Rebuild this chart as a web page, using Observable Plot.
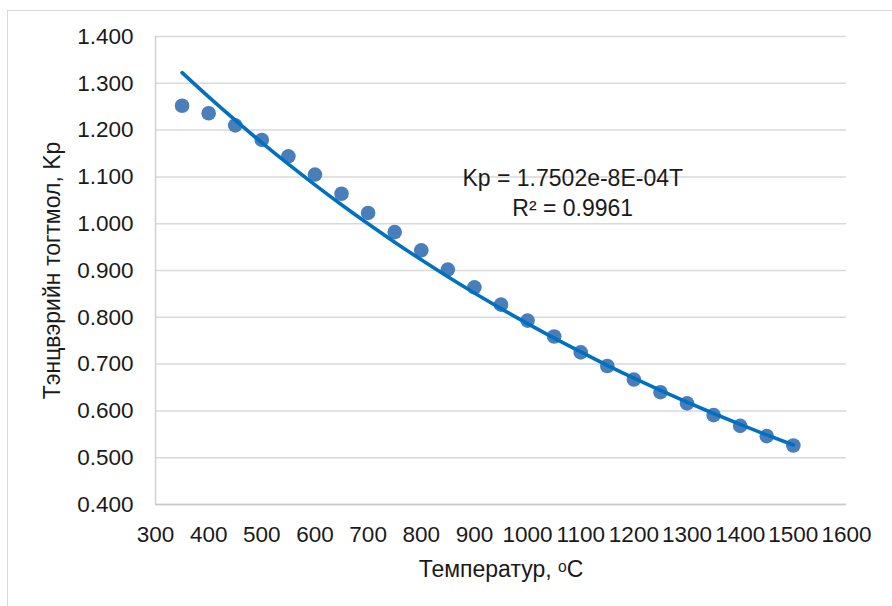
<!DOCTYPE html>
<html>
<head>
<meta charset="utf-8">
<script src="https://cdn.jsdelivr.net/npm/d3@7"></script>
<script src="https://cdn.jsdelivr.net/npm/@observablehq/plot@0.6"></script>
<style>
  html, body { margin: 0; padding: 0; background: #fff; }
  #wrap { position: relative; width: 892px; height: 606px; overflow: hidden; }
  #frame { position: absolute; left: 7px; top: 10px; width: 1000px; height: 1000px;
           border-top: 1.5px solid #d9d9d9; border-left: 1.5px solid #d9d9d9; pointer-events: none; }
  #chart svg { display: block; }
</style>
</head>
<body>
<div id="wrap">
  <div id="chart"></div>
  <div id="frame"></div>
</div>
<script>
// Temperature (°C) of each measured point
const temperatures = [350, 400, 450, 500, 550, 600, 650, 700, 750, 800, 850, 900,
  950, 1000, 1050, 1100, 1150, 1200, 1250, 1300, 1350, 1400, 1450, 1500];
// Equilibrium constant Kp
const kpValues = [1.252, 1.236, 1.210, 1.179, 1.144, 1.105, 1.064, 1.023, 0.982, 0.943,
  0.902, 0.864, 0.827, 0.793, 0.759, 0.725, 0.696, 0.667, 0.640, 0.616, 0.591, 0.568, 0.546, 0.526];
// Exponential trendline values (Kp = 1.7502e^-8E-04T) at the same temperatures
const trendValues = [1.3228, 1.2709, 1.2211, 1.1732, 1.1272, 1.0830, 1.0405, 0.9997,
  0.9605, 0.9229, 0.8867, 0.8519, 0.8185, 0.7864, 0.7556, 0.7260, 0.6975, 0.6701,
  0.6439, 0.6186, 0.5944, 0.5711, 0.5487, 0.5272];
const xTicks = [300, 400, 500, 600, 700, 800, 900, 1000, 1100, 1200, 1300, 1400, 1500, 1600];
const yTicks = [0.4, 0.5, 0.6, 0.7, 0.8, 0.9, 1.0, 1.1, 1.2, 1.3, 1.4];
const xTitle = "Температур, ᵒC";
const yTitle = "Тэнцвэрийн тогтмол, Kp";
const equationText = "Kp = 1.7502e-8E-04T";
const r2Text = "R² = 0.9961";

const points = temperatures.map((t, i) => ({T: t, kp: kpValues[i]}));
const trend = temperatures.map((t, i) => ({T: t, kp: trendValues[i]}));

const fontSize = 22.5;
const plot = Plot.plot({
  width: 892,
  height: 606,
  marginLeft: 155,
  marginRight: 46,
  marginTop: 36,
  marginBottom: 102,
  style: {fontFamily: "'Liberation Sans', Arial, sans-serif", fontSize: fontSize + "px", color: "#1a1a1a", background: "transparent"},
  x: {domain: [300, 1600], ticks: xTicks, label: null},
  y: {domain: [0.4, 1.4], ticks: yTicks, label: null},
  marks: [
    Plot.gridY(yTicks, {stroke: "#d9d9d9", strokeOpacity: 1, strokeWidth: 1.5}),
    Plot.ruleX([300], {stroke: "#d0d0d0", strokeWidth: 1.5}),
    Plot.ruleY([0.4], {stroke: "#c8c8c8", strokeWidth: 1.5}),
    Plot.axisX(xTicks, {tickSize: 0, tickPadding: 22, fontSize: fontSize, label: null, tickFormat: d3.format("d")}),
    Plot.axisY(yTicks, {tickSize: 0, tickPadding: 22, fontSize: fontSize, label: null, tickFormat: d3.format(".3f")}),
    Plot.dot(points, {x: "T", y: "kp", r: 7.3, fill: "#4a7ebb", stroke: "none"}),
    Plot.line(trend, {x: "T", y: "kp", stroke: "#0070c0", strokeWidth: 3.6, curve: "natural"}),
    Plot.text([equationText], {x: 1085, y: 1.097, text: d => d, fontSize: 23, fill: "#1a1a1a"}),
    Plot.text([r2Text], {x: 1085, y: 1.033, text: d => d, fontSize: 23, fill: "#1a1a1a"}),
    Plot.text([xTitle], {frameAnchor: "bottom", dy: 72, text: d => d, fontSize: 23, fill: "#1a1a1a"}),
    Plot.text([yTitle], {frameAnchor: "left", dx: -103, rotate: -90, textAnchor: "middle", text: d => d, fontSize: 23, fill: "#1a1a1a"})
  ]
});
document.getElementById("chart").appendChild(plot);
</script>
</body>
</html>
